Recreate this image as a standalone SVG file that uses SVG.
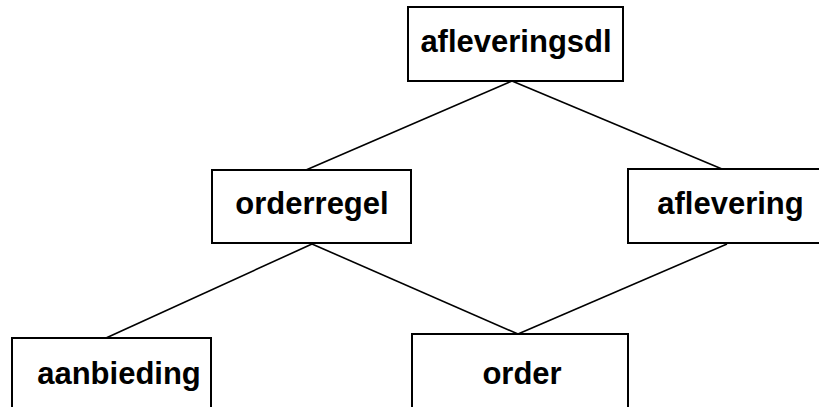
<svg xmlns="http://www.w3.org/2000/svg" width="819" height="407" viewBox="0 0 819 407">
<style>
.box{fill:#fff;stroke:#000;stroke-width:2}
.lbl{font-family:"Liberation Sans",Arial,sans-serif;font-weight:bold;font-size:31px;fill:#000}
.con{stroke:#000;stroke-width:1.6;fill:none}
</style>
<rect x="0" y="0" width="819" height="407" fill="#fff"/>
<g id="connectors">
<line class="con" x1="512" y1="81" x2="306" y2="170"/>
<line class="con" x1="512" y1="81" x2="722" y2="169"/>
<line class="con" x1="312" y1="244" x2="106" y2="338"/>
<line class="con" x1="312" y1="244" x2="518" y2="334"/>
<line class="con" x1="727" y1="244" x2="518" y2="334"/>
</g>
<g id="afleveringsdl">
<rect class="box" x="408" y="7" width="215" height="74"/>
<text class="lbl" x="516" y="52" text-anchor="middle">afleveringsdl</text>
</g>
<g id="orderregel">
<rect class="box" x="212" y="170" width="199" height="73"/>
<text class="lbl" x="312" y="214" text-anchor="middle">orderregel</text>
</g>
<g id="aflevering">
<rect class="box" x="628" y="169" width="200" height="74"/>
<text class="lbl" x="730.5" y="214" text-anchor="middle">aflevering</text>
</g>
<g id="aanbieding">
<rect class="box" x="12" y="338" width="199" height="80"/>
<text class="lbl" x="119" y="384" text-anchor="middle">aanbieding</text>
</g>
<g id="order">
<rect class="box" x="412" y="334" width="216" height="84"/>
<text class="lbl" x="522" y="384" text-anchor="middle">order</text>
</g>
</svg>
